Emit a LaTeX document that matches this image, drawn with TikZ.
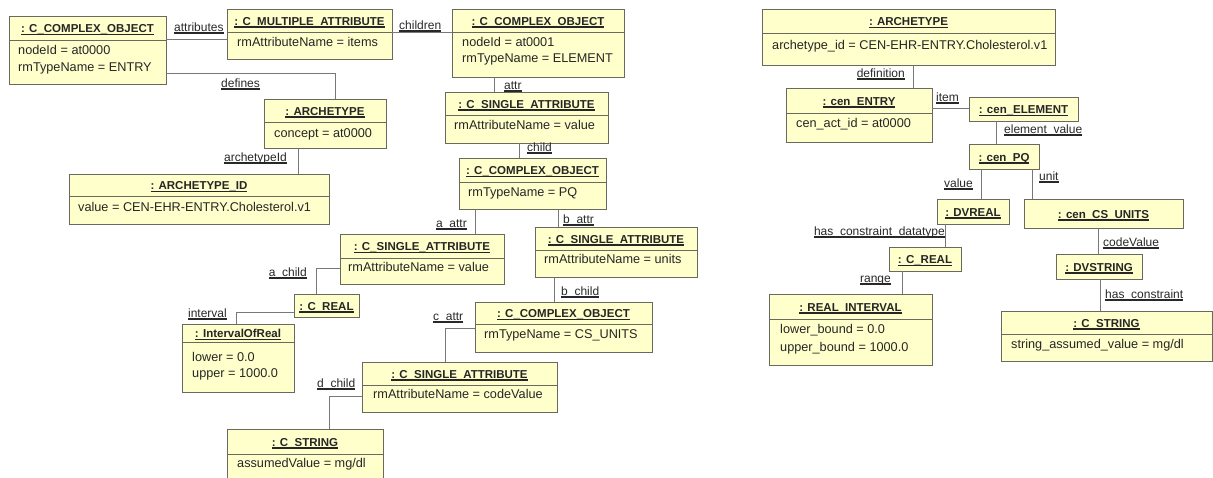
\documentclass[tikz,border=0pt]{standalone}
\usepackage{fontspec}
\setmainfont{Liberation Sans}
\usetikzlibrary{calc}
\definecolor{boxfill}{RGB}{255,255,204}
\definecolor{boxdraw}{RGB}{105,105,95}
\definecolor{connc}{RGB}{120,120,120}
\definecolor{labc}{RGB}{40,40,40}
\newsavebox\ulinebox
\newcommand\ulx[1]{\sbox\ulinebox{#1}\rlap{\rule[-0.22em]{\wd\ulinebox}{0.10em}}\usebox\ulinebox}
\tikzset{
  ubox/.style={draw=boxdraw, fill=boxfill, line width=1pt, inner sep=0pt, outer sep=0pt, rectangle},
  utitle/.style={inner sep=0pt, anchor=base, font=\fontsize{11.5}{13}\selectfont\bfseries, text=black!85},
  uattr/.style={inner sep=0pt, anchor=base west, font=\fontsize{12.7}{14}\selectfont, text=black!85},
  conn/.style={draw=connc, line width=1pt},
  lab/.style={inner sep=0pt, anchor=base west, font=\fontsize{12}{14}\selectfont, text=labc},
  labr/.style={lab, anchor=base east}
}
% name, x1, y1, x2, y2, header bottom, title
\newcommand\UBox[7]{%
  \node[ubox, anchor=north west, minimum width={(#4)-(#2)}, minimum height={(#5)-(#3)}] (#1) at (#2,#3) {};
  \draw[draw=boxdraw, line width=1pt] (#2,#6) -- (#4,#6);
  \node[utitle] (#1-t) at ({((#2)+(#4))/2},{((#3)+(#6))/2+4.5}) {\ulx{#7}};
}
\begin{document}
\begin{tikzpicture}[x=1pt,y=-1pt]
\useasboundingbox (0,0) rectangle (1213,477);
\fill[white] (0,0) rectangle (1213,477);
\clip (0,0) rectangle (1213,477);

% ---------- left diagram ----------
\UBox{A}{9}{16}{166}{84}{40}{: C\_COMPLEX\_OBJECT}
\node[uattr] (A-1) at (18,54) {nodeId = at0000};
\node[uattr] (A-2) at (18,71.5) {rmTypeName = ENTRY};

\UBox{B}{227}{9}{392}{59}{32}{: C\_MULTIPLE\_ATTRIBUTE}
\node[uattr] (B-1) at (237,46.5) {rmAttributeName = items};

\UBox{C}{452}{9}{624}{77}{32}{: C\_COMPLEX\_OBJECT}
\node[uattr] (C-1) at (462,46.5) {nodeId = at0001};
\node[uattr] (C-2) at (462,62.5) {rmTypeName = ELEMENT};

\UBox{D}{445}{92}{608}{143}{115}{: C\_SINGLE\_ATTRIBUTE}
\node[uattr] (D-1) at (454,129.5) {rmAttributeName = value};

\UBox{E}{459}{158}{606}{209}{182}{: C\_COMPLEX\_OBJECT}
\node[uattr] (E-1) at (468,196.5) {rmTypeName = PQ};

\UBox{F}{340}{234}{504}{284}{258}{: C\_SINGLE\_ATTRIBUTE}
\node[uattr] (F-1) at (348,271.5) {rmAttributeName = value};

\UBox{G}{535}{227}{697}{277}{250}{: C\_SINGLE\_ATTRIBUTE}
\node[uattr] (G-1) at (544,263.5) {rmAttributeName = units};

\UBox{H}{475}{302}{652}{352}{324}{: C\_COMPLEX\_OBJECT}
\node[uattr] (H-1) at (484,338.5) {rmTypeName = CS\_UNITS};

\UBox{I}{362}{362}{557}{412}{385}{: C\_SINGLE\_ATTRIBUTE}
\node[uattr] (I-1) at (373,398.5) {rmAttributeName = codeValue};

\UBox{J}{227}{429}{383}{484}{454}{: C\_STRING}
\node[uattr] (J-1) at (237,467.5) {assumedValue = mg/dl};

\UBox{K}{264}{99}{386}{148}{122}{: ARCHETYPE}
\node[uattr] (K-1) at (274,137.5) {concept = at0000};

\UBox{L}{69}{174}{329}{224}{196}{: ARCHETYPE\_ID}
\node[uattr] (L-1) at (78,211.5) {value = CEN-EHR-ENTRY.Cholesterol.v1};

\UBox{M}{294}{294}{359}{317}{317}{: C\_REAL}

\UBox{N}{182}{324}{294}{392}{342}{: IntervalOfReal}
\node[uattr] (N-1) at (192,361.5) {lower = 0.0};
\node[uattr] (N-2) at (192,377.5) {upper = 1000.0};

% connectors left
\draw[conn] (A.east |- 0,39) -- (B.west |- 0,39);
\draw[conn] (A.east |- 0,73) -| (K.north -| 335,0);
\draw[conn] (B.east |- 0,32) -- (C.west |- 0,32);
\draw[conn] (C.south -| 494,0) -- (D.north -| 494,0);
\draw[conn] (D.south -| 519,0) -- (E.north -| 519,0);
\draw[conn] (K.south -| 298,0) -- (L.north -| 298,0);
\draw[conn] (E.south -| 475,0) -- (F.north -| 475,0);
\draw[conn] (E.south -| 558,0) -- (G.north -| 558,0);
\draw[conn] (F.west |- 0,268) -| (M.north -| 316,0);
\draw[conn] (M.west |- 0,312) -| (N.north -| 236,0);
\draw[conn] (G.south -| 554,0) -- (H.north -| 554,0);
\draw[conn] (H.west |- 0,328) -| (I.north -| 445,0);
\draw[conn] (I.west |- 0,396) -| (J.north -| 329,0);

\node[lab] (l-attributes) at (174,31) {\ulx{attributes}};
\node[lab] (l-defines) at (221,87) {\ulx{defines}};
\node[lab] (l-children) at (399,29) {\ulx{children}};
\node[lab] (l-attr) at (504,89) {\ulx{attr}};
\node[lab] (l-child) at (527,151) {\ulx{child}};
\node[labr] (l-archid) at (287,161) {\ulx{archetypeId}};
\node[labr] (l-aattr) at (467,227) {\ulx{a\_attr}};
\node[lab] (l-battr) at (563,223) {\ulx{b\_attr}};
\node[labr] (l-achild) at (307,276) {\ulx{a\_child}};
\node[labr] (l-interval) at (227,317) {\ulx{interval}};
\node[lab] (l-bchild) at (561,295) {\ulx{b\_child}};
\node[lab] (l-cattr) at (433,320) {\ulx{c\_attr}};
\node[lab] (l-dchild) at (317,387) {\ulx{d\_child}};

% ---------- right diagram ----------
\UBox{P}{762}{9}{1055}{65}{33}{: ARCHETYPE}
\node[uattr] (P-1) at (772,49.5) {archetype\_id = CEN-EHR-ENTRY.Cholesterol.v1};

\UBox{Q}{786}{88}{932}{142}{113}{: cen\_ENTRY}
\node[uattr] (Q-1) at (796,127.5) {cen\_act\_id = at0000};

\UBox{R}{969}{97}{1078}{121}{121}{: cen\_ELEMENT}
\UBox{S}{969}{144}{1039}{169}{169}{: cen\_PQ}
\UBox{T}{937}{199}{1009}{224}{224}{: DVREAL}
\UBox{U}{1024}{199}{1183}{228}{228}{: cen\_CS\_UNITS}
\UBox{V}{889}{247}{961}{271}{271}{: C\_REAL}

\UBox{W}{769}{294}{932}{365}{319}{: REAL\_INTERVAL}
\node[uattr] (W-1) at (780,333.5) {lower\_bound = 0.0};
\node[uattr] (W-2) at (780,351.5) {upper\_bound = 1000.0};

\UBox{X}{1056}{254}{1142}{279}{279}{: DVSTRING}

\UBox{Y}{1001}{311}{1212}{361}{334}{: C\_STRING}
\node[uattr] (Y-1) at (1011,348.5) {string\_assumed\_value = mg/dl};

% connectors right
\draw[conn] (P.south -| 913,0) -- (Q.north -| 913,0);
\draw[conn] (Q.east |- 0,108) -- (R.west |- 0,108);
\draw[conn] (R.south -| 996,0) -- (S.north -| 996,0);
\draw[conn] (S.south -| 981,0) -- (T.north -| 981,0);
\draw[conn] (S.south -| 1032,0) -- (U.north -| 1032,0);
\draw[conn] (T.south -| 945,0) -- (V.north -| 945,0);
\draw[conn] (V.south -| 902,0) -- (W.north -| 902,0);
\draw[conn] (U.south -| 1098,0) -- (X.north -| 1098,0);
\draw[conn] (X.south -| 1100,0) -- (Y.north -| 1100,0);

\node[labr] (l-definition) at (905,77) {\ulx{definition}};
\node[lab] (l-item) at (936,101) {\ulx{item}};
\node[lab] (l-elval) at (1004,133) {\ulx{element\_value}};
\node[labr] (l-value) at (973,187) {\ulx{value}};
\node[lab] (l-unit) at (1039,180) {\ulx{unit}};
\node[labr] (l-hcd) at (945,235) {\ulx{has\_constraint\_datatype}};
\node[labr] (l-range) at (891,282) {\ulx{range}};
\node[lab] (l-codevalue) at (1103,246) {\ulx{codeValue}};
\node[lab] (l-hc) at (1105,298) {\ulx{has\_constraint}};
\end{tikzpicture}
\end{document}
